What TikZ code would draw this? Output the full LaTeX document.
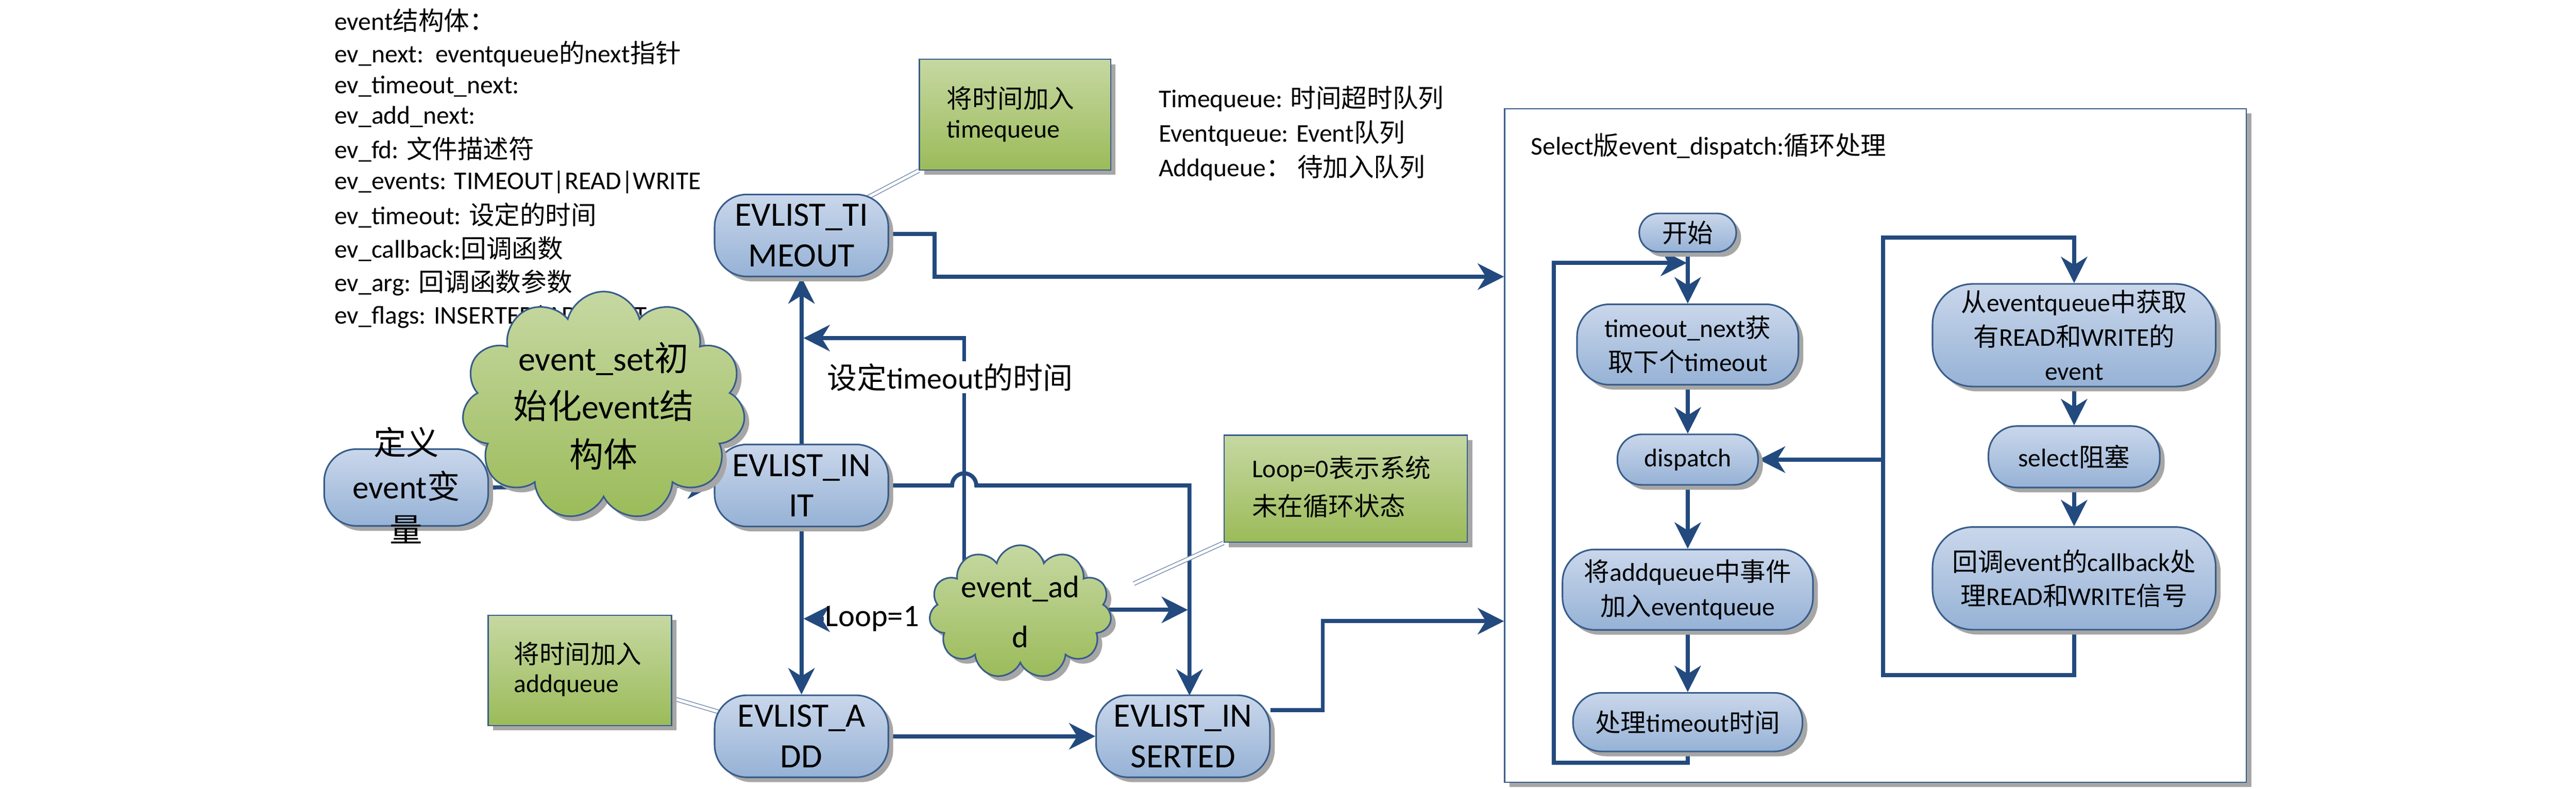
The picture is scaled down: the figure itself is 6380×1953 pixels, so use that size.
\documentclass[tikz,border=0pt]{standalone}
\usepackage{fontspec}
\setmainfont{Carlito}
\newfontfamily\cjk{Noto Sans CJK SC}
\newcommand\zh[1]{{\cjk #1}}
\usetikzlibrary{shapes.symbols,shadows,arrows.meta}
\definecolor{lineblue}{RGB}{35,74,126}
\definecolor{nodeTop}{RGB}{202,215,235}
\definecolor{nodeBot}{RGB}{150,178,214}
\definecolor{nodeBorder}{RGB}{56,93,138}
\definecolor{greenTop}{RGB}{198,216,162}
\definecolor{greenBot}{RGB}{155,187,89}
\definecolor{callout}{RGB}{120,140,175}
\pgfdeclarelayer{back}
\pgfsetlayers{back,main}
\newcommand\fs[2]{\fontsize{#1}{#2}\selectfont}
\begin{document}
\begin{tikzpicture}[x=0.01cm,y=-0.01cm,
  shd/.style={drop shadow={shadow xshift=0.12cm,shadow yshift=-0.12cm,fill=black!35,opacity=1}},
  ln/.style={draw=lineblue,line width=0.1cm,line join=miter,-{Stealth[length=0.65cm,width=0.65cm,inset=0.2cm]}},
  bnode/.style={draw=nodeBorder,line width=0.04cm,top color=nodeTop,bottom color=nodeBot,rounded corners=0.8cm,align=center,inner sep=0,shd},
  ev/.style={bnode,minimum width=4.3cm,minimum height=2.03cm,font=\fs{24}{28.5}},
  sn/.style={bnode,font=\fs{18}{24}},
  gbox/.style={draw=nodeBorder,line width=0.03cm,top color=greenTop,bottom color=greenBot,shd,inner sep=0},
  gcloud/.style={cloud,cloud puffs=11,cloud ignores aspect,draw=nodeBorder,line width=0.04cm,top color=greenTop,bottom color=greenBot,shd,align=center,inner sep=0},
  lst/.style={anchor=west,inner sep=0,font=\fs{18}{22}},
  gtx/.style={anchor=west,inner sep=0,font=\fs{18}{22}},
  co/.style={draw=callout,line width=0.02cm,double=white,double distance=0.07cm}]
\useasboundingbox (0,0) rectangle (6380,1953);
% left list
\node[lst] (l1) at (828,50) {event\zh{结构体：}};
\node[lst] (l2) at (828,133) {ev\_next:\ \ eventqueue\zh{的}next\zh{指针}};
\node[lst] (l3) at (828,214) {ev\_timeout\_next:};
\node[lst] (l4) at (828,289) {ev\_add\_next:};
\node[lst] (l5) at (828,370) {ev\_fd: \zh{文件描述符}};
\node[lst] (l6) at (828,451) {ev\_events: TIMEOUT|READ|WRITE};
\node[lst] (l7) at (828,533) {ev\_timeout: \zh{设定的时间}};
\node[lst] (l8) at (828,616) {ev\_callback:\zh{回调函数}};
\node[lst] (l9) at (828,700) {ev\_arg: \zh{回调函数参数}};
\node[lst] (l10) at (828,785) {ev\_flags: INSERTED|ADD|INIT};
% queue legend
\node[gtx] (q1) at (2869,244) {Timequeue: \zh{时间超时队列}};
\node[gtx] (q2) at (2869,330) {Eventqueue: Event\zh{队列}};
\node[gtx] (q3) at (2869,415) {Addqueue\zh{：\ 待加入队列}};
% green boxes
\node[gbox,minimum width=4.74cm,minimum height=2.74cm] (g1) at (2514,284) {};
\node[gtx] (g1t) at (2344,243) {\zh{将时间加入}};
\node[gtx] (g1u) at (2344,324) {timequeue};
\node[gbox,minimum width=4.54cm,minimum height=2.73cm] (g2) at (1436,1660) {};
\node[gtx] (g2t) at (1272,1619) {\zh{将时间加入}};
\node[gtx] (g2u) at (1272,1697) {addqueue};
\node[gbox,minimum width=6.02cm,minimum height=2.65cm] (g3) at (3333,1210) {};
\node[gtx] (g3t) at (3100,1160) {Loop=0\zh{表示系统}};
\node[gtx] (g3u) at (3100,1253) {\zh{未在循环状态}};
% main nodes
\node[ev] (to) at (1985,583) {EVLIST\_TI\\MEOUT};
\node[ev] (init) at (1985,1202) {EVLIST\_IN\\IT};
\node[ev] (add) at (1985,1823) {EVLIST\_A\\DD};
\node[ev] (ins) at (2930,1823) {EVLIST\_IN\\SERTED};
\node[bnode,minimum width=4.06cm,minimum height=1.9cm] (def) at (1006,1207) {};
\node[align=center,inner sep=0,font=\fs{23}{30.7}] (deft) at (1006,1202) {\zh{定义}\\event\zh{变}\\\zh{量}};
\node[gcloud,minimum width=5.5cm,minimum height=3.85cm,font=\fs{24}{34}] (cs) at (1495,1005) {event\_set\zh{初}\\\zh{始化}event\zh{结}\\\zh{构体}};
\node[gcloud,minimum width=4.4cm,minimum height=2.95cm,font=\fs{22}{35}] (ca) at (2527,1515) {event\_ad\\d};
% select internals
\node[anchor=west,inner sep=0,font=\fs{18}{22}] (selt) at (3791,362) {Select\zh{版}event\_dispatch:\zh{循环处理}};
\node[sn,minimum width=2.4cm,minimum height=0.95cm,rounded corners=0.47cm] (st) at (4180,576) {\zh{开始}};
\node[sn,minimum width=5.48cm,minimum height=1.99cm] (tn) at (4180,853) {timeout\_next\zh{获}\\\zh{取下个}timeout};
\node[sn,minimum width=3.48cm,minimum height=1.25cm,rounded corners=0.6cm] (dp) at (4180,1138) {dispatch};
\node[sn,minimum width=6.2cm,minimum height=1.99cm] (aq) at (4180,1460) {\zh{将}addqueue\zh{中事件}\\\zh{加入}eventqueue};
\node[sn,minimum width=5.68cm,minimum height=1.45cm,rounded corners=0.7cm] (pt) at (4180,1788) {\zh{处理}timeout\zh{时间}};
\node[sn,minimum width=7.01cm,minimum height=2.54cm,rounded corners=1cm] (fe) at (5137,830) {\zh{从}eventqueue\zh{中获取}\\\zh{有}READ\zh{和}WRITE\zh{的}\\event};
\node[sn,minimum width=4.24cm,minimum height=1.52cm,rounded corners=0.7cm] (sb) at (5137,1131) {select\zh{阻塞}};
\node[sn,minimum width=7.01cm,minimum height=2.54cm,rounded corners=1cm] (cb) at (5137,1432) {\zh{回调}event\zh{的}callback\zh{处}\\\zh{理}READ\zh{和}WRITE\zh{信号}};
% labels on lines
\node[anchor=west,fill=white,inner sep=0.05cm,font=\fs{21}{25}] (lbt) at (2043,934) {\zh{设定}timeout\zh{的时间}};
\node[anchor=west,inner sep=0.03cm,font=\fs{22}{26}] (lbl) at (2040,1532) {Loop=1};
\begin{pgfonlayer}{back}
\node[draw=nodeBorder,line width=0.03cm,fill=white,shd,minimum width=18.36cm,minimum height=16.67cm,inner sep=0] (sel) at (4645,1103) {};
\draw[ln] (def.east) -- (init.west);
\draw[ln] (init.north) -- (to.south);
\draw[ln] (init.south) -- (add.north);
\draw[ln] (add.east) -- (ins.west);
\coordinate (hop) at (2388,1202);
\draw[ln] (init.east) -- ([xshift=-0.3cm]hop) arc(180:0:0.3cm) -- (2946,1202) -- (2946,1722);
\draw[ln] (2388,1400) -- (2388,837) -- (1990,837);
\draw[ln] (lbl.west) -- (1990,1532);
\draw[ln] (2740,1510) -- (2942,1510);
\draw[ln] (to.east |- 0,579) -- (2315,579) -- (2315,685) -- (sel.west |- 0,685);
\draw[ln] (ins.east |- 0,1758) -- (3276,1758) -- (3276,1538) -- (sel.west |- 0,1538);
\draw[co] (g1.south west) -- (2143,492);
\draw[co] (1663,1728) -- (1798,1768);
\draw[co] (g3.south west) -- (2808,1445);
\draw[ln] (st.south) -- (tn.north);
\draw[ln] (tn.south) -- (dp.north);
\draw[ln] (dp.south) -- (aq.north);
\draw[ln] (aq.south) -- (pt.north);
\draw[ln] (pt.south) -- (4180,1888) -- (3848,1888) -- (3848,651) -- (4178,651);
\draw[ln] (fe.south) -- (sb.north);
\draw[ln] (sb.south) -- (cb.north);
\draw[ln] (cb.south) -- (5137,1671) -- (4664,1671) -- (4664,588) -| (fe.north);
\draw[ln] (4664,1138) -- (dp.east);
\end{pgfonlayer}
\end{tikzpicture}
\end{document}
